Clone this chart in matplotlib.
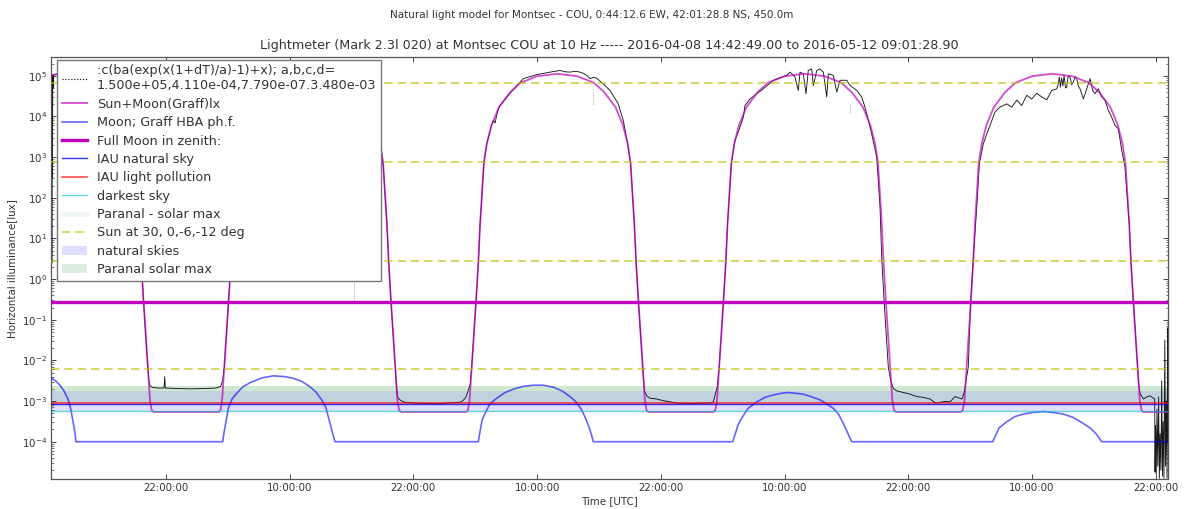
import numpy as np
import matplotlib
matplotlib.use('Agg')
import matplotlib.pyplot as plt
import matplotlib.dates as mdates
from matplotlib.lines import Line2D
from matplotlib.ticker import LogLocator, NullFormatter, FixedLocator
import datetime as dt

# ----------------------------- data (hours from 2016-04-08 00:00 UTC, log10 lux) ------------------
t0 = mdates.date2num(dt.datetime(2016, 4, 8))
t_start, t_end = 10.85, 119.19
tick_hours = [22, 34, 46, 58, 70, 82, 94, 106, 118]
y_ticks = [1e-4, 1e-3, 1e-2, 1e-1, 1e0, 1e1, 1e2, 1e3, 1e4, 1e5]

# model sun+moon: one day profile, around local noon
noons = [11.95, 35.95, 59.95, 83.95, 107.95]
sun_offsets = [-8.85, -8.66, -8.50, -8.29, -7.87, -7.645, -7.48, -7.11, -6.83, -6.38, -5.65,
               -4.55, -3.55, -1.95, 0.0, 1.95, 3.55, 4.55, 5.65, 6.38, 6.83, 7.11, 7.48,
               7.645, 7.87, 8.29, 8.50, 8.66, 8.85]
sun_log = [-3.27, -3.22, -2.97, -2.16, -0.52, 0.44, 1.36, 2.86, 3.33, 3.78, 4.23,
           4.60, 4.83, 4.99, 5.05, 4.99, 4.83, 4.60, 4.23, 3.78, 3.33, 2.86, 1.36,
           0.44, -0.52, -2.16, -2.97, -3.22, -3.27]

# moon (Graff)
moon_h = [10.92, 11.33, 11.72, 12.11, 12.53, 12.79, 13.01, 13.18, 13.27,
          27.50, 27.63, 27.73, 27.87, 28.05, 28.41, 28.86, 29.47, 30.15, 31.32, 32.41, 33.55,
          34.35, 35.20, 35.97, 36.55, 37.11, 37.52, 37.91, 38.15, 38.40,
          52.30, 52.46, 52.66, 52.95, 53.43, 54.08, 54.89, 55.69, 56.63, 57.63, 58.57, 59.57,
          60.41, 61.19, 61.77, 62.32, 62.69, 62.96, 63.23, 63.45,
          76.97, 77.19, 77.48, 77.84, 78.46, 79.30, 80.10, 80.91, 81.66, 82.36, 83.11, 83.82,
          84.66, 85.44, 86.02, 86.73, 87.23, 87.70, 88.11, 88.51,
          102.19, 102.41, 102.80, 103.55, 104.35, 105.16, 106.10, 107.09, 108.04, 109.03,
          109.97, 110.97, 111.62, 112.20, 112.76, 119.30]
moon_log = [-2.44, -2.51, -2.61, -2.75, -2.97, -3.22, -3.54, -3.79, -4.0,
            -4.0, -3.78, -3.63, -3.44, -3.17, -2.95, -2.81, -2.65, -2.55, -2.43, -2.38, -2.40,
            -2.44, -2.52, -2.65, -2.78, -2.97, -3.17, -3.55, -3.78, -4.0,
            -4.0, -3.75, -3.47, -3.30, -3.07, -2.93, -2.79, -2.71, -2.64, -2.61, -2.61, -2.66,
            -2.75, -2.89, -3.02, -3.22, -3.42, -3.59, -3.79, -4.0,
            -4.0, -3.83, -3.59, -3.42, -3.18, -3.02, -2.91, -2.85, -2.81, -2.79, -2.81, -2.83,
            -2.90, -2.97, -3.06, -3.18, -3.32, -3.55, -3.78, -4.0,
            -4.0, -3.88, -3.66, -3.51, -3.38, -3.32, -3.28, -3.26, -3.28, -3.32,
            -3.40, -3.55, -3.66, -3.80, -4.0, -4.0]

# lightmeter measurements
meas_h = [10.86, 10.88, 10.91, 10.93, 10.96, 10.99, 11.02, 11.06, 11.10, 11.40, 13.50, 15.50,
          16.50, 17.60, 18.33, 18.78, 19.06, 19.43, 19.60, 19.82, 20.24, 20.35,
          20.45, 20.65, 21.23, 21.81, 21.88, 21.94, 22.91, 24.37, 25.82, 26.82, 27.30, 27.50,
          27.66, 28.08, 28.305, 28.47, 28.84, 29.12, 29.57, 30.30, 31.40, 32.40, 34.00, 35.95,
          37.90, 39.50, 40.50, 41.60, 42.33, 42.78, 43.06, 43.43, 43.60, 43.82, 44.24, 44.38,
          44.51, 44.80, 45.19, 46.16, 47.61, 48.30, 49.07, 50.52, 50.81, 51.10, 51.50,
          51.66, 52.08, 52.305, 52.47, 52.84, 53.12, 53.57, 53.75, 53.92, 54.10, 54.30, 54.90,
          55.40, 56.00, 56.66, 57.30, 57.96, 58.60, 59.25, 59.70, 60.22, 60.70, 61.19, 61.60,
          62.00, 62.40, 62.81, 63.13, 63.45, 63.78, 64.42, 65.07, 65.87, 66.36, 66.78, 67.06,
          67.43, 67.595, 67.82, 68.24, 68.40,
          68.63, 68.95, 69.60, 70.24, 70.89, 71.54, 72.83, 73.80, 74.77, 75.09, 75.25, 75.47,
          75.66, 76.08, 76.305, 76.47, 76.84, 77.19, 77.51, 78.00, 78.16, 78.65, 79.30, 79.94,
          80.91, 81.56, 82.21, 82.53, 83.01, 83.33, 83.50, 83.82, 84.08, 84.30, 84.63, 84.79,
          85.12, 85.44, 85.76, 86.09, 86.24, 86.73, 87.06, 87.38, 88.03, 88.35, 89.00, 89.48,
          89.80, 89.97, 90.45, 90.94, 91.26, 91.42, 91.65, 92.06, 92.30,
          92.55, 92.88, 93.52, 94.17, 94.82, 95.46, 96.11, 96.60, 96.92, 97.25, 97.73, 98.05,
          98.38, 98.54, 98.87, 99.20, 99.42,
          99.82, 100.05, 100.31, 100.64, 100.89, 101.28, 101.61, 101.93, 102.41, 102.90, 103.55,
          104.03, 104.52, 105.00, 105.49, 105.97, 106.46, 106.94, 107.43, 107.91, 108.40,
          108.55, 108.65, 108.75, 108.88, 109.00, 109.11, 109.25, 109.37, 109.50, 109.69,
          109.85, 110.01, 110.20, 110.34, 110.50, 110.66, 110.98, 111.31, 111.63, 111.89,
          112.11, 112.43, 112.76, 113.08, 113.40, 113.73, 114.05, 114.37, 114.70, 115.02,
          115.43, 115.595, 115.82, 116.24, 116.35,
          116.48, 116.80, 117.13, 117.45, 117.76, 117.90, 117.93, 117.98, 118.05, 118.12,
          118.20, 118.28, 118.35, 118.42, 118.50, 118.58, 118.65, 118.72, 118.80, 118.88,
          118.95, 119.02, 119.10, 119.15, 119.18]
meas_log = [5.00, -1.00, 4.95, 0.40, 5.02, 2.50, 5.00, 4.70, 5.03, 5.04, 5.00, 4.85,
            4.62, 4.25, 3.80, 3.33, 2.86, 1.36, 0.44, -0.52, -2.16, -2.50,
            -2.62, -2.66, -2.68, -2.68, -2.40, -2.68, -2.69, -2.70, -2.69, -2.68, -2.64, -2.50,
            -2.16, -0.52, 0.44, 1.36, 2.86, 3.33, 3.78, 4.23, 4.60, 4.85, 5.02, 5.08,
            5.02, 4.85, 4.62, 4.25, 3.80, 3.33, 2.86, 1.36, 0.44, -0.52, -2.16, -2.75,
            -2.93, -2.99, -3.03, -3.05, -3.06, -3.07, -3.05, -3.03, -2.99, -2.90, -2.60,
            -2.16, -0.52, 0.44, 1.36, 2.86, 3.33, 3.78, 3.90, 3.84, 4.05, 4.23, 4.42,
            4.58, 4.75, 4.93, 4.98, 5.03, 5.06, 5.09, 5.11, 5.13, 5.10, 5.09, 5.11,
            5.10, 5.07, 5.01, 4.93, 4.96, 4.94, 4.80, 4.64, 4.31, 3.90, 3.33, 2.86,
            1.36, 0.44, -0.52, -2.16, -2.75,
            -2.87, -2.93, -2.95, -2.99, -3.02, -3.05, -3.06, -3.05, -3.05, -3.02, -2.87, -2.65,
            -2.16, -0.52, 0.44, 1.36, 2.86, 3.41, 3.62, 3.98, 4.27, 4.43, 4.56, 4.68,
            4.89, 4.95, 5.01, 5.09, 4.97, 4.64, 5.09, 5.05, 4.56, 5.13, 5.17, 4.76,
            5.13, 5.17, 5.09, 4.48, 5.05, 5.01, 4.60, 4.89, 4.89, 4.76, 4.64, 4.48,
            4.23, 4.07, 3.57, 3.00, 1.77, 0.54, -0.52, -2.16, -2.50,
            -2.69, -2.75, -2.79, -2.83, -2.89, -2.91, -2.95, -3.04, -3.05, -3.02, -3.01, -3.02,
            -2.93, -2.89, -2.92, -2.95, -2.79,
            -2.16, -0.52, 0.54, 1.77, 2.84, 3.33, 3.57, 3.78, 4.11, 4.23, 4.31,
            4.23, 4.40, 4.27, 4.52, 4.43, 4.57, 4.48, 4.41, 4.64, 4.68,
            4.80, 4.97, 4.72, 4.95, 4.75, 5.01, 4.70, 4.72, 4.99, 4.97,
            4.78, 4.85, 4.98, 4.93, 4.74, 4.68, 4.43, 4.68, 4.93, 4.64,
            4.56, 4.68, 4.48, 4.40, 4.15, 3.98, 3.78, 3.70, 3.17, 2.76,
            1.36, 0.44, -0.52, -2.16, -2.60,
            -2.81, -2.95, -2.90, -2.87, -2.93, -2.95, -4.75, -3.60, -4.80, -3.20,
            -4.60, -2.90, -4.90, -3.80, -4.70, -2.50, -4.85, -3.50, -4.90, -1.50,
            -4.60, -3.00, -4.90, -1.20, -4.00]

# short dropouts in the measurements
drop_h = [40.24, 63.40, 88.35]
drop_lo = [-0.55, 4.30, 4.11]
drop_hi = [0.30, 4.64, 4.31]

# reference levels [lux]
full_moon = 0.28
iau_natural = 8.5e-4
iau_pollution = 9.1e-4
darkest = 5.7e-4
paranal_line = 2.1e-3
sun_levels = [6.6e4, 7.6e2, 2.75, 6.2e-3]
natural_band = (5.7e-4, 1.78e-3)
paranal_band = (8.5e-4, 2.34e-3)

fit_label = (':c(ba(exp(x(1+dT)/a)-1)+x); a,b,c,d=\n'
             '1.500e+05,4.110e-04,7.790e-07.3.480e-03')

# ----------------------------- plot --------------------------------------------------------------
sun_t, sun_v = [], []
for noon in noons:
    sun_t += [noon + o for o in sun_offsets]
    sun_v += sun_log
sun_t.append(t_end + 0.2)
sun_v.append(sun_log[-1])

def tx(h):
    return t0 + np.asarray(h) / 24.0

txt = '#333333'
fig = plt.figure(figsize=(11.84, 5.09), dpi=100)
ax = fig.add_axes([51 / 1184, 1 - 479.3 / 509, 1117 / 1184, (479.3 - 57) / 509])

bands = []
bands.append(ax.axhspan(*natural_band, color='b', alpha=0.13, lw=0, label='natural skies'))
bands.append(ax.axhspan(*paranal_band, color='g', alpha=0.13, lw=0, label='Paranal solar max'))

ax.plot(tx(meas_h), 10 ** np.array(meas_log), color='k', lw=0.65, alpha=0.9, zorder=2)
ax.vlines(tx(drop_h), 10 ** np.array(drop_lo), 10 ** np.array(drop_hi),
          colors='gray', lw=0.6, linestyles=':', zorder=2)
h_fit = Line2D([], [], color='k', ls=':', lw=0.8, label=fit_label)

h_sun, = ax.plot(tx(sun_t), 10 ** np.array(sun_v), color='m', alpha=0.7, lw=1.3,
                 label='Sun+Moon(Graff)lx', zorder=3)
h_moon, = ax.plot(tx(moon_h), 10 ** np.array(moon_log), color='b', alpha=0.6, lw=1.2,
                  label='Moon; Graff HBA ph.f.', zorder=3)
h_full = ax.axhline(full_moon, color='#c000c0', lw=2.4, label='Full Moon in zenith:', zorder=3)
h_nat = ax.axhline(iau_natural, color='b', lw=1.0, alpha=0.8, label='IAU natural sky', zorder=3)
h_pol = ax.axhline(iau_pollution, color='r', lw=1.2, alpha=0.7, label='IAU light pollution', zorder=3)
h_dark = ax.axhline(darkest, color='c', lw=1.0, alpha=0.6, label='darkest sky', zorder=3)
h_par = ax.axhline(paranal_line, color='g', lw=3.5, alpha=0.06, label='Paranal - solar max', zorder=1)
for i, lev in enumerate(sun_levels):
    ln = ax.axhline(lev, color='y', lw=1.2, alpha=0.7, dashes=(5, 3), zorder=3,
                    label='Sun at 30, 0,-6,-12 deg' if i == 0 else None)
    if i == 0:
        h_sunlev = ln

ax.set_yscale('log')
ax.set_ylim(1.19e-5, 2.9e5)
ax.yaxis.set_major_locator(FixedLocator(y_ticks))
ax.yaxis.set_minor_locator(LogLocator(base=10, subs=np.arange(2, 10), numticks=20))
ax.yaxis.set_minor_formatter(NullFormatter())
ax.set_xlim(tx(t_start), tx(t_end))
ax.xaxis.set_major_locator(FixedLocator(tx(tick_hours)))
ax.xaxis.set_major_formatter(mdates.DateFormatter('%H:%M:%S'))

ax.tick_params(which='both', direction='in', top=True, right=True, colors='#444444',
               labelcolor=txt, labelsize=7.4, pad=3)
ax.tick_params(which='major', length=3.5, width=0.7)
ax.tick_params(which='minor', length=1.8, width=0.5, labelleft=False, labelbottom=False)
for s in ax.spines.values():
    s.set_color('#555555')
    s.set_linewidth(0.9)

ax.set_xlabel('Time [UTC]', fontsize=7.4, color=txt, labelpad=2)
ax.set_ylabel('Horizontal illuminance[lux]', fontsize=7.4, color=txt, labelpad=3)
ax.set_title('Lightmeter (Mark 2.3l 020) at Montsec COU at 10 Hz ----- '
             '2016-04-08 14:42:49.00 to 2016-05-12 09:01:28.90', fontsize=9.2, color=txt)
fig.text(0.5, 1 - 15 / 509, 'Natural light model for Montsec - COU, 0:44:12.6 EW, '
         '42:01:28.8 NS, 450.0m', ha='center', va='center', fontsize=7.5, color=txt)

handles = [h_fit, h_sun, h_moon, h_full, h_nat, h_pol, h_dark, h_par, h_sunlev] + bands
leg = ax.legend(handles=handles, loc='upper left', bbox_to_anchor=(0.0056, 0.993),
                borderaxespad=0, fontsize=9.2, labelspacing=0.42, handlelength=2.0,
                handletextpad=0.75, borderpad=0.35, fancybox=False, framealpha=1.0,
                edgecolor='#777777')
leg.get_frame().set_linewidth(1.0)
for t in leg.get_texts():
    t.set_color(txt)
leg.set_zorder(10)

fig.savefig('out.png', dpi=100)
